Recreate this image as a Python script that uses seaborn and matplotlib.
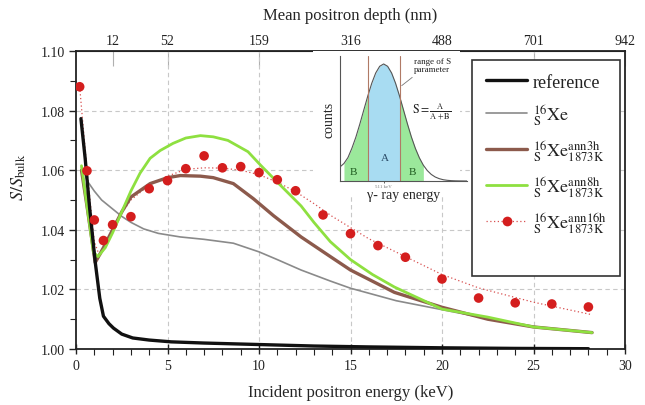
import numpy as np
import pandas as pd
import matplotlib
matplotlib.use("Agg")
import matplotlib.pyplot as plt
from matplotlib.patches import Rectangle
from matplotlib.lines import Line2D
import seaborn as sns

# ---------------- data ----------------
energy_ref = [0.27, 0.5, 0.75, 1.05, 1.3, 1.5, 1.8, 2.05, 2.5, 3.1, 4.0, 5.2, 7.0, 10.0, 13.0, 16.0, 20.0, 24.0, 28.0]
s_ref = [1.0773, 1.064, 1.047, 1.0292, 1.017, 1.011, 1.0085, 1.007, 1.005, 1.0037, 1.003, 1.0024, 1.002,
         1.0015, 1.001, 1.0007, 1.0004, 1.0002, 1.0001]

energy_xe = [0.3, 0.66, 1.0, 1.4, 2.0, 2.5, 3.0, 3.7, 4.5, 5.7, 7.0, 8.6, 10.0, 11.0, 12.3, 13.9, 15.0,
             17.5, 20.0, 22.5, 25.0, 28.2]
s_xe = [1.061, 1.056, 1.053, 1.050, 1.047, 1.0445, 1.0425, 1.0403, 1.0388, 1.0376, 1.0368, 1.0355, 1.0326,
        1.0300, 1.0265, 1.0228, 1.0204, 1.0162, 1.0132, 1.0102, 1.0075, 1.0054]

energy_3h = [0.3, 0.6, 1.05, 1.5, 2.0, 2.5, 3.0, 4.05, 5.0, 5.7, 6.8, 7.5, 8.6, 9.7, 10.8, 12.3, 13.9, 15.0,
             17.4, 20.0, 22.5, 25.0, 28.2]
s_3h = [1.060, 1.048, 1.029, 1.034, 1.040, 1.046, 1.051, 1.0555, 1.0575, 1.0582, 1.0580, 1.0575, 1.0555,
        1.0504, 1.0447, 1.0376, 1.031, 1.0265, 1.019, 1.014, 1.010, 1.0074, 1.0055]

energy_8h = [0.3, 0.6, 0.95, 1.2, 1.6, 2.0, 2.5, 3.0, 3.5, 4.05, 4.6, 5.3, 6.0, 6.8, 7.5, 8.3, 9.4, 10.1,
             11.0, 12.3, 13.0, 13.9, 15.0, 16.2, 17.4, 20.0, 22.5, 25.0, 28.2]
s_8h = [1.0615, 1.048, 1.0325, 1.031, 1.034, 1.039, 1.046, 1.053, 1.059, 1.064, 1.0666, 1.069, 1.0708,
        1.0716, 1.0712, 1.0700, 1.0662, 1.0616, 1.056, 1.048, 1.0425, 1.036, 1.030, 1.025, 1.0208, 1.0134,
        1.0107, 1.0074, 1.0055]

energy_16h = [0.2, 0.6, 1.0, 1.5, 2.0, 3.0, 4.0, 5.0, 6.0, 7.0, 8.0, 9.0, 10.0, 11.0, 12.0, 13.5, 15.0,
              16.5, 18.0, 20.0, 22.0, 24.0, 26.0, 28.0]
s_16h = [1.088, 1.0598, 1.0433, 1.0364, 1.0417, 1.0444, 1.0538, 1.0565, 1.0605, 1.0648, 1.0608, 1.0612,
         1.0592, 1.0568, 1.0531, 1.045, 1.0387, 1.0347, 1.0308, 1.0235, 1.0171, 1.0155, 1.0151, 1.0141]

energy_fit = [0.2, 0.6, 1.0, 1.3, 1.7, 2.2, 3.0, 4.0, 5.0, 6.0, 7.0, 8.0, 9.0, 10.0, 11.0, 12.0, 13.0, 14.0,
              16.0, 18.0, 20.0, 22.0, 25.0, 28.2]
s_fit = [1.088, 1.060, 1.036, 1.031, 1.036, 1.043, 1.050, 1.055, 1.058, 1.0603, 1.0608, 1.0607, 1.060,
         1.0585, 1.056, 1.0528, 1.0488, 1.0445, 1.037, 1.031, 1.025, 1.0205, 1.0157, 1.0115]

depth_energy = [2, 5, 10, 15, 20, 25, 30]
depth_labels = ["12", "52", "159", "316", "488", "701", "942"]

# inset: schematic annihilation peak (energy offset in sigma, normalised counts)
peak_x = [-2.2, -2.0, -1.8, -1.6, -1.4, -1.2, -1.0, -0.8, -0.6, -0.4, -0.2, 0.0, 0.2, 0.4, 0.6, 0.8, 1.0,
          1.2, 1.4, 1.6, 1.8, 2.0, 2.2, 2.4, 2.6, 2.8, 3.0, 3.2, 3.4, 3.6, 3.8, 4.0, 4.2]
peak_y = [0.12, 0.15, 0.20, 0.28, 0.375, 0.487, 0.607, 0.726, 0.835, 0.923, 0.980, 1.0, 0.980, 0.923,
          0.835, 0.726, 0.607, 0.487, 0.375, 0.278, 0.198, 0.135, 0.089, 0.056, 0.034, 0.020, 0.011,
          0.006, 0.003, 0.0015, 0.0007, 0.0003, 0.0]
s_window = [-0.8, 0.8]
b_window = [-2.0, 2.0]

# ---------------- style ----------------
sns.set_style("ticks")
plt.rcParams["font.family"] = ["Liberation Serif", "DejaVu Serif"]
plt.rcParams["mathtext.fontset"] = "stix"
plt.rcParams["axes.edgecolor"] = "#222222"
plt.rcParams["text.color"] = "#222222"
plt.rcParams["xtick.color"] = "#222222"
plt.rcParams["ytick.color"] = "#222222"

fig = plt.figure(figsize=(6.45, 4.06), dpi=100)
ax = fig.add_axes([76 / 645, 1 - 350 / 406, 549 / 645, 298 / 406])

grid_kw = dict(color="#c8c8c8", lw=0.8, ls=(0, (4, 3)), zorder=0.5)
for gx in [5, 10, 15, 20, 25]:
    ax.axvline(gx, **grid_kw)
for gy in [1.02, 1.04, 1.06, 1.08]:
    ax.axhline(gy, **grid_kw)

df_ref = pd.DataFrame({"E": energy_ref, "S": s_ref})
df_xe = pd.DataFrame({"E": energy_xe, "S": s_xe})
df_3h = pd.DataFrame({"E": energy_3h, "S": s_3h})
df_8h = pd.DataFrame({"E": energy_8h, "S": s_8h})
df_16 = pd.DataFrame({"E": energy_16h, "S": s_16h})
df_fit = pd.DataFrame({"E": energy_fit, "S": s_fit})

c_ref, c_xe, c_3h, c_8h, c_16 = "#111111", "#8a8a8a", "#8c5a4c", "#8ee040", "#d41e1e"

sns.lineplot(data=df_fit, x="E", y="S", ax=ax, color="#d85050", lw=0.9, ls=(0, (1, 2)),
             sort=False, estimator=None, zorder=2)
sns.lineplot(data=df_xe, x="E", y="S", ax=ax, color=c_xe, lw=1.2, sort=False, estimator=None, zorder=3)
sns.lineplot(data=df_3h, x="E", y="S", ax=ax, color=c_3h, lw=2.4, sort=False, estimator=None, zorder=3)
sns.lineplot(data=df_8h, x="E", y="S", ax=ax, color=c_8h, lw=2.0, sort=False, estimator=None, zorder=3)
sns.lineplot(data=df_ref, x="E", y="S", ax=ax, color=c_ref, lw=2.4, sort=False, estimator=None, zorder=3)
sns.scatterplot(data=df_16, x="E", y="S", ax=ax, color=c_16, s=48, edgecolor="none", zorder=4)

ax.set_xlim(0, 30)
ax.set_ylim(1.0, 1.10)
ax.set_xticks([0, 5, 10, 15, 20, 25, 30])
ax.set_xticks(np.arange(0, 31, 1), minor=True)
ax.set_yticks([1.00, 1.02, 1.04, 1.06, 1.08, 1.10])
ax.set_yticklabels(["1.00", "1.02", "1.04", "1.06", "1.08", "1.10"])
ax.set_yticks(np.arange(1.01, 1.10, 0.02), minor=True)
ax.tick_params(axis="x", which="major", direction="inout", length=7, width=1, labelsize=10, pad=4)
ax.tick_params(axis="x", which="minor", direction="out", length=4, width=0.8)
ax.tick_params(axis="y", which="major", direction="out", length=5, width=1, labelsize=10, pad=3)
ax.tick_params(axis="y", which="minor", direction="out", length=4, width=0.8)
for sp in ax.spines.values():
    sp.set_linewidth(1.3)
    sp.set_visible(True)

ax.set_xlabel("Incident positron energy (keV)", fontsize=12, labelpad=8)
ax.set_ylabel(r"$S/S_{\mathrm{bulk}}$", fontsize=13, labelpad=8)
ax.yaxis.set_label_coords(-0.087, 0.58)

sec = ax.secondary_xaxis("top")
sec.set_xticks(depth_energy)
sec.set_xticklabels(depth_labels)
sec.tick_params(axis="x", direction="in", length=11, width=0.8, color="#b0b0b0", labelsize=10, pad=3)
sec.set_xlabel("Mean positron depth (nm)", fontsize=12, labelpad=11)

# legend box
ax.add_patch(Rectangle((0.721, 0.245), 0.270, 0.725, transform=ax.transAxes, facecolor="white",
                       edgecolor="#333333", lw=1.2, zorder=5))
handles = [
    Line2D([], [], color=c_ref, lw=2.4),
    Line2D([], [], color=c_xe, lw=1.2),
    Line2D([], [], color=c_3h, lw=2.4),
    Line2D([], [], color=c_8h, lw=2.0),
    Line2D([], [], color="#d85050", lw=0.9, ls=(0, (1, 2)), marker="o", markersize=7,
           markerfacecolor=c_16, markeredgecolor="none"),
]
labels = [
    "reference",
    r"${}^{16}_{\mathrm{S}}\mathrm{Xe}$",
    r"${}^{16}_{\mathrm{S}}\mathrm{Xe}^{\mathrm{ann3h}}_{\mathrm{1873K}}$",
    r"${}^{16}_{\mathrm{S}}\mathrm{Xe}^{\mathrm{ann8h}}_{\mathrm{1873K}}$",
    r"${}^{16}_{\mathrm{S}}\mathrm{Xe}^{\mathrm{ann16h}}_{\mathrm{1873K}}$",
]
leg = ax.legend(handles, labels, loc="upper left", bbox_to_anchor=(0.717, 0.978), frameon=False,
                fontsize=13, handlelength=2.3, handletextpad=0.3, labelspacing=0.62)
leg.set_zorder(6)

# white background for inset
ax.add_patch(Rectangle((313 / 645, 1 - 196 / 406), 147 / 645, 144 / 406, transform=fig.transFigure,
                       facecolor="white", edgecolor="none", zorder=4.5))

# ---------------- inset ----------------
axi = fig.add_axes([340 / 645, 1 - 182 / 406, 127 / 645, 125 / 406])
axi.set_facecolor("none")
px = np.array(peak_x)
py = np.array(peak_y)
mask_a = (px >= s_window[0]) & (px <= s_window[1])
mask_bl = (px >= b_window[0]) & (px <= s_window[0])
mask_br = (px >= s_window[1]) & (px <= b_window[1])
axi.fill_between(px[mask_a], 0, py[mask_a], color="#a8dcf2", lw=0)
axi.fill_between(px[mask_bl], 0, py[mask_bl], color="#9be89b", lw=0)
axi.fill_between(px[mask_br], 0, py[mask_br], color="#9be89b", lw=0)
sns.lineplot(x=peak_x, y=peak_y, ax=axi, color="#555555", lw=0.8, sort=False, estimator=None)
for v in s_window:
    axi.axvline(v, color="#b07a66", lw=0.8)
axi.set_xlim(-2.2, 4.2)
axi.set_ylim(0, 1.068)
axi.set_yticks([])
axi.set_xticks([0])
axi.set_xticklabels(["511 keV"], fontsize=3.5, color="#777777")
axi.tick_params(axis="x", length=1.5, width=0.5, pad=1)
axi.spines["top"].set_visible(False)
axi.spines["right"].set_visible(False)
axi.spines["left"].set_linewidth(0.8)
axi.spines["bottom"].set_linewidth(0.8)
axi.spines["left"].set_color("#555555")
axi.spines["bottom"].set_color("#555555")
axi.set_ylabel("counts", fontsize=10, labelpad=3)
axi.set_xlabel("\u03b3- ray energy", fontsize=10, labelpad=0)
axi.text(0.05, 0.20, "A", fontsize=8, color="#2a4a66", ha="center", va="center")
axi.text(-1.55, 0.085, "B", fontsize=8, color="#1e5a1e", ha="center", va="center")
axi.text(1.45, 0.085, "B", fontsize=8, color="#1e5a1e", ha="center", va="center")
axi.text(2.45, 0.99, "range of S\nparameter", fontsize=6.5, ha="center", va="center", linespacing=1.1)
axi.annotate("", xy=(0.8, 0.8), xytext=(1.55, 0.9),
             arrowprops=dict(arrowstyle="-", color="#777777", lw=0.6))
axi.text(2.4, 0.6, r"$\mathrm{S} = \frac{\mathrm{A}}{\mathrm{A+B}}$", fontsize=8.5, ha="center", va="center")

fig.savefig("out.png", dpi=100)
